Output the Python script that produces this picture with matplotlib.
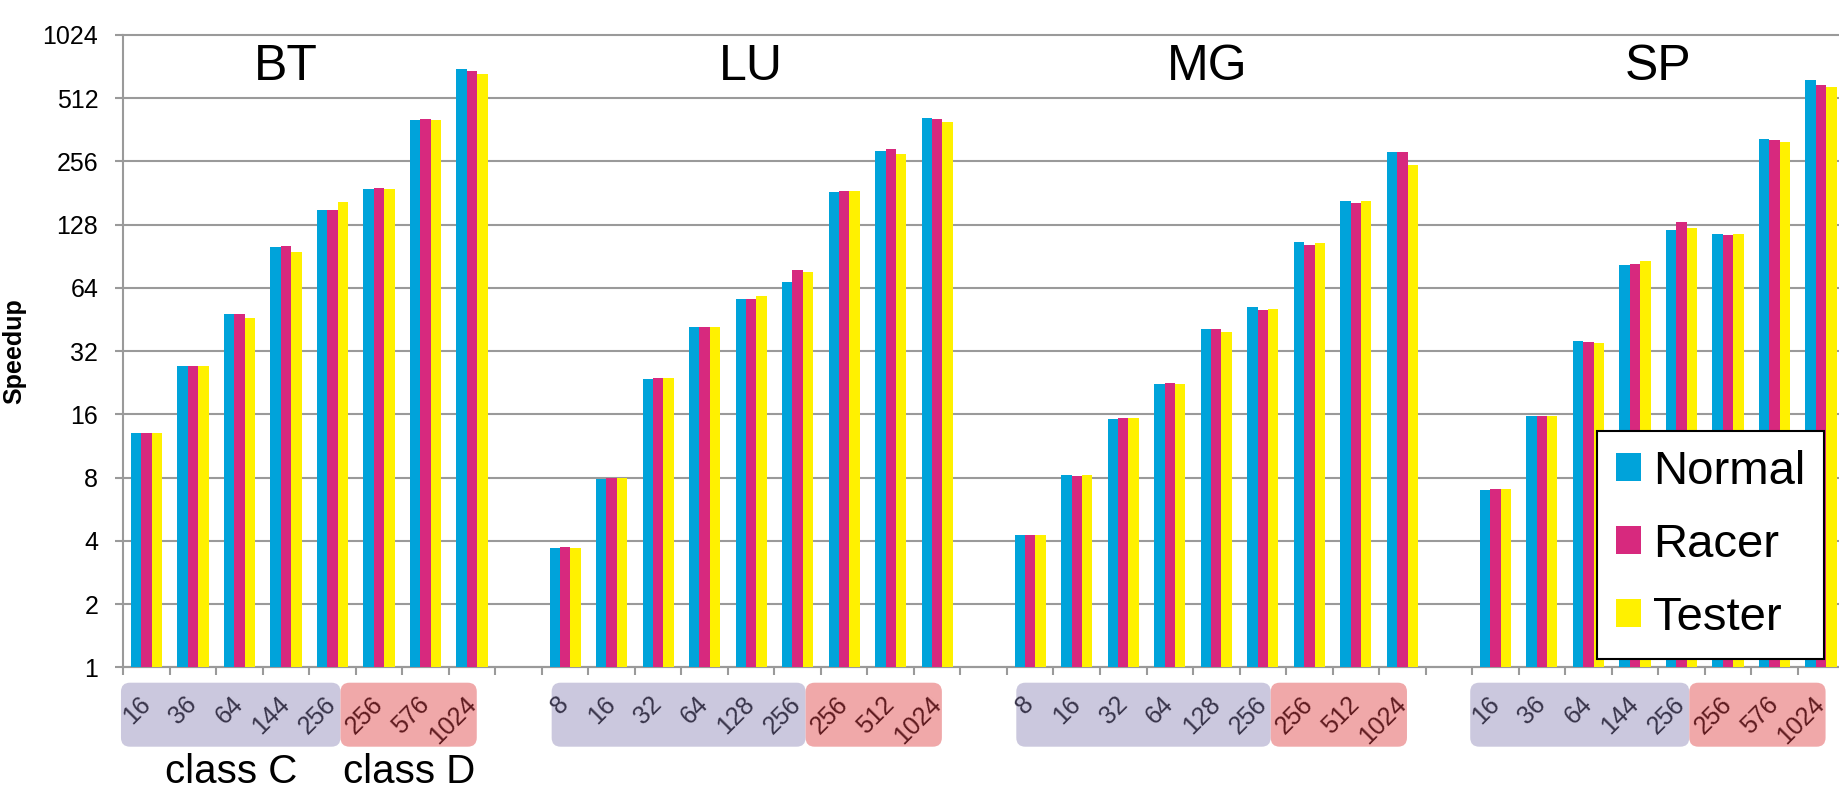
import numpy as np
import matplotlib
matplotlib.use('Agg')
import matplotlib.pyplot as plt
import matplotlib.transforms as mtransforms
from matplotlib.patches import FancyBboxPatch
from matplotlib.ticker import FixedLocator, NullLocator, FuncFormatter

plt.rcParams['font.family'] = ['Liberation Sans', 'DejaVu Sans']

# ---- data ----
benchmarks = ['BT', 'LU', 'MG', 'SP']
series_names = ['Normal', 'Racer', 'Tester']

bt_procs = ['16', '36', '64', '144', '256', '256', '576', '1024']
lu_procs = ['8', '16', '32', '64', '128', '256', '256', '512', '1024']
mg_procs = ['8', '16', '32', '64', '128', '256', '256', '512', '1024']
sp_procs = ['16', '36', '64', '144', '256', '256', '576', '1024']

# number of class C entries per benchmark (rest are class D)
n_class_c = [5, 6, 6, 5]

bt_normal = [13.0, 27.1, 48.1, 100, 150, 189, 402, 705]
bt_racer = [13.0, 27.1, 48.1, 101, 151, 191, 408, 690]
bt_tester = [13.0, 27.3, 46.2, 95, 165, 189, 405, 668]

lu_normal = [3.70, 7.85, 23.7, 41.6, 56.5, 68.3, 183, 287, 414]
lu_racer = [3.74, 7.94, 23.9, 41.6, 56.5, 77.7, 185, 292, 406]
lu_tester = [3.70, 7.94, 23.9, 41.6, 58.8, 76.2, 185, 277, 395]

mg_normal = [4.26, 8.23, 15.2, 22.3, 40.8, 51.9, 106, 166, 284]
mg_racer = [4.26, 8.14, 15.4, 22.6, 40.8, 50.1, 103, 162, 284]
mg_tester = [4.26, 8.23, 15.4, 22.3, 39.6, 50.8, 105, 166, 246]

sp_normal = [7.01, 15.8, 35.6, 82.0, 121, 116, 329, 623]
sp_racer = [7.08, 15.8, 35.4, 83.5, 132, 114, 324, 590]
sp_tester = [7.08, 15.8, 35.0, 85.7, 124, 116, 317, 577]

procs = [bt_procs, lu_procs, mg_procs, sp_procs]
values = [
    [bt_normal, bt_racer, bt_tester],
    [lu_normal, lu_racer, lu_tester],
    [mg_normal, mg_racer, mg_tester],
    [sp_normal, sp_racer, sp_tester],
]

# ---- styling ----
colors = ['#00A3DA', '#D7297E', '#FFF100']
grid_color = '#9A9A9A'
box_c_color = '#CBC8DE'
box_d_color = '#F0A8A9'
label_c_color = '#38344A'
label_d_color = '#5E1A1E'

W, H, DPI = 1840, 798, 100
ax_left_px, ax_top_px, ax_bottom_px = 123.3, 35.0, 667.3
slot_px = 46.51

n_slots = sum(len(p) for p in procs) + len(procs) - 1

fig = plt.figure(figsize=(W / DPI, H / DPI), dpi=DPI)
ax = fig.add_axes([ax_left_px / W, (H - ax_bottom_px) / H,
                   n_slots * slot_px / W, (ax_bottom_px - ax_top_px) / H])

bar_w = 0.224
offsets = [-bar_w, 0.0, bar_w]

# slot positions per benchmark (one empty slot between benchmarks)
positions = []
pos = 0
for p in procs:
    positions.append(np.arange(len(p)) + pos)
    pos += len(p) + 1

for g, xs in enumerate(positions):
    for s in range(3):
        ax.bar(xs + offsets[s], values[g][s], width=bar_w, color=colors[s],
               linewidth=0, zorder=3, label=series_names[s] if g == 0 else None)

# ---- axes ----
ax.set_yscale('log', base=2)
ax.set_ylim(1, 1024)
ax.set_xlim(-0.5, n_slots - 0.5)
ax.yaxis.set_major_locator(FixedLocator([2 ** k for k in range(11)]))
ax.yaxis.set_minor_locator(NullLocator())
ax.yaxis.set_major_formatter(FuncFormatter(lambda v, _: f'{int(round(v))}'))
ax.grid(axis='y', color=grid_color, linewidth=1.5, zorder=0)
for gl in ax.get_ygridlines():
    gl.set_clip_on(False)
ax.set_axisbelow(True)

for side in ['top', 'right']:
    ax.spines[side].set_visible(False)
for side in ['left', 'bottom']:
    ax.spines[side].set_color(grid_color)
    ax.spines[side].set_linewidth(1.5)

ax.tick_params(axis='y', which='major', length=6, width=1.5, color=grid_color,
               labelsize=18, pad=12)

all_x = np.concatenate(positions)
all_labels = [lab for p in procs for lab in p]
ax.set_xticks(all_x)
ax.set_xticklabels(all_labels)
ax.xaxis.set_minor_locator(FixedLocator(np.arange(-0.5, n_slots, 1.0)))
ax.tick_params(axis='x', which='major', length=0, labelsize=18, pad=24)
ax.tick_params(axis='x', which='minor', length=6, width=1.5, color=grid_color)

tick_colors = []
for p, nc in zip(procs, n_class_c):
    tick_colors += [label_c_color] * nc + [label_d_color] * (len(p) - nc)
for lab, c in zip(ax.get_xticklabels(), tick_colors):
    lab.set_rotation(45)
    lab.set_rotation_mode('anchor')
    lab.set_ha('right')
    lab.set_va('center')
    lab.set_color(c)

# ---- class C / class D boxes under the tick labels ----
box_left_off = [-0.55, -0.29, -0.30, -0.54]
split_off = 0.17
right_off = 0.10
ax_bottom_disp = H - ax_bottom_px
box_top = ax_bottom_disp - 15.4
box_bot = ax_bottom_disp - 79.4


def to_px(x):
    return ax.transData.transform((x, 1))[0]


ident = mtransforms.IdentityTransform()
text_trans = mtransforms.blended_transform_factory(ax.transData, ident)
for g, xs in enumerate(positions):
    nc = n_class_c[g]
    x0 = to_px(xs[0] + box_left_off[g])
    x1 = to_px(xs[nc - 1] + split_off)
    x2 = to_px(xs[-1] + right_off)
    for a, b, fc in [(x0, x1, box_c_color), (x1, x2, box_d_color)]:
        ax.add_patch(FancyBboxPatch((a, box_bot), b - a, box_top - box_bot,
                                    boxstyle='round,pad=0,rounding_size=9',
                                    facecolor=fc, edgecolor='none',
                                    transform=ident, clip_on=False, zorder=0.5))
    if g == 0:
        xc = ax.transData.inverted().transform(((x0 + x1) / 2, 0))[0]
        xd = ax.transData.inverted().transform(((x1 + x2) / 2, 0))[0]
        ax.text(xc, H - 783, 'class C', transform=text_trans, fontsize=29,
                ha='center', va='baseline')
        ax.text(xd, H - 783, 'class D', transform=text_trans, fontsize=29,
                ha='center', va='baseline')

# ---- benchmark titles ----
title_x = [3.0, 13.0, 22.8, 32.5]
for name, tx in zip(benchmarks, title_x):
    ax.text(tx, 0.929, name, transform=ax.get_xaxis_transform(), fontsize=36,
            ha='center', va='baseline', zorder=5)

fig.text(14 / W, 1 - 351 / H, 'Speedup', rotation=90, fontsize=18,
         fontweight='bold', ha='center', va='center')

leg = ax.legend(loc='upper left', bbox_to_anchor=(1596.7 / W, 1 - 430.7 / H),
                bbox_transform=fig.transFigure, borderaxespad=0,
                fontsize=34, handlelength=0.53, handleheight=0.53,
                handletextpad=0.26, labelspacing=0.62, borderpad=0.40,
                fancybox=False, framealpha=1, edgecolor='black')
leg.get_frame().set_linewidth(1.5)
leg.set_zorder(10)

fig.savefig('out.png', dpi=DPI, facecolor='white')
